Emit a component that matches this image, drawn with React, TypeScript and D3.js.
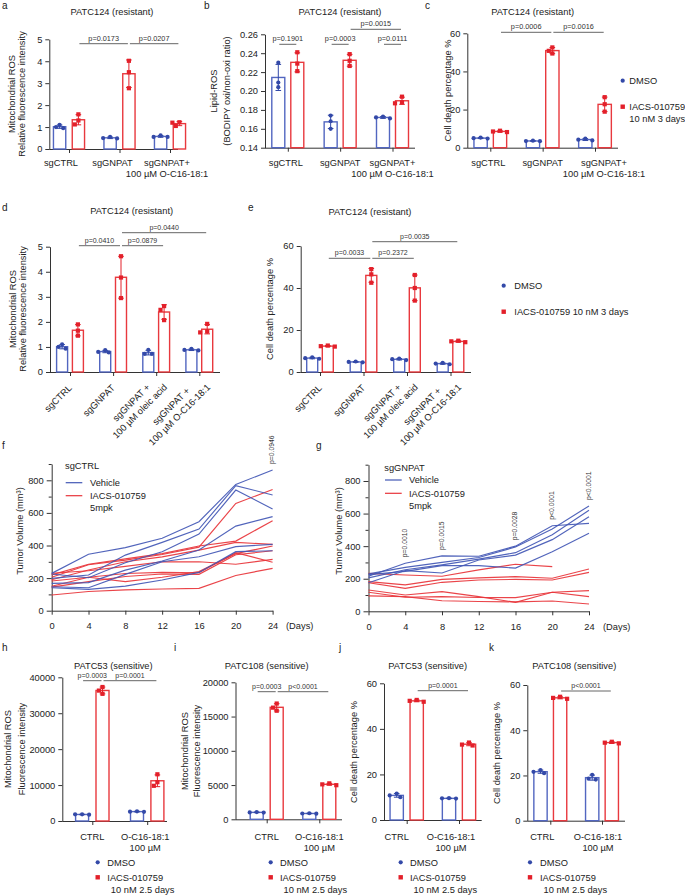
import React, { useEffect, useRef } from "react";
import * as d3 from "d3";

const W = 685, H = 895;
const FONT = "'Liberation Sans', Arial, Helvetica, sans-serif";
const FS = 9.3;
const TXT = "#222";
const AX = "#333";
const BLUE = "#3349a8";
const RED = "#e3202a";
const BLUE_BAR = "#5266c0";
const RED_BAR = "#e8393e";
const BLUE_LINE = "#4257b5";
const RED_LINE = "#e8343a";

// ---------- data: panel a ----------
const aGroups = ["sgCTRL", "sgGNPAT", "sgGNPAT+|100 µM O-C16-18:1"];
const aDMSO = [[1.0, 1.1, 0.95], [0.5, 0.55, 0.48], [0.62, 0.55, 0.55]];
const aIACS = [[1.58, 1.3, 1.12], [4.02, 3.5, 2.77], [1.22, 1.2, 1.05]];
const aTicks = [0, 1, 2, 3, 4, 5];
const aPvals = ["p=0.0173", "p=0.0207"];
// ---------- panel b ----------
const bDMSO = [[0.23, 0.209, 0.204], [0.174, 0.168, 0.16], [0.173, 0.172, 0.171]];
const bIACS = [[0.241, 0.229, 0.221], [0.239, 0.232, 0.2265], [0.194, 0.188, 0.187]];
const bTicks = [0.14, 0.16, 0.18, 0.2, 0.22, 0.24, 0.26];
const bPvals = ["p=0.1901", "p=0.0003", "p=0.0015", "p=0.0111"];
// ---------- panel c ----------
const cDMSO = [[5.3, 5.0, 4.8], [3.7, 3.5, 3.4], [4.8, 4.2, 3.8]];
const cIACS = [[8.9, 8.5, 8.2], [52.6, 50.8, 49.4], [26.5, 22.8, 18.9]];
const pctTicks = [0, 20, 40, 60];
const cPvals = ["p=0.0006", "p=0.0016"];
// ---------- panel d ----------
const dGroups = ["sgCTRL", "sgGNPAT", "sgGNPAT +|100 µM oleic acid", "sgGNPAT +|100 µM O-C16-18:1"];
const dDMSO = [[1.1, 1.0, 0.93], [0.87, 0.8, 0.78], [0.88, 0.72, 0.72], [0.92, 0.88, 0.86]];
const dIACS = [[1.9, 1.65, 1.45], [4.62, 3.77, 2.95], [2.63, 2.48, 2.07], [1.92, 1.62, 1.58]];
const dPvals = ["p=0.0410", "p=0.0879", "p=0.0440"];
// ---------- panel e ----------
const eDMSO = [[7.0, 6.6, 6.3], [5.0, 4.8, 4.6], [6.4, 6.1, 5.7], [4.3, 4.0, 3.7]];
const eIACS = [[12.6, 12.3, 12.1], [49.0, 46.5, 42.5], [46.2, 40.0, 34.0], [14.9, 14.6, 14.2]];
const ePvals = ["p=0.0033", "p=0.2372", "p=0.0035"];
// ---------- panels f, g ----------
const days = [0, 4, 8, 12, 16, 20, 24];
const tumorTicks = [0, 200, 400, 600, 800];
const tumorMinor = [100, 300, 500, 700, 900];
const fVehicle = [
  [229, 346, 387, 444, 546, 775, 863],
  [198, 219, 341, 419, 501, 767, 710],
  [225, 202, 294, 362, 470, 740, 624],
  [168, 172, 249, 305, 372, 519, 577],
  [147, 141, 223, 300, 331, 393, 407],
  [141, 131, 151, 188, 235, 362, 368],
];
const fIACS = [
  [205, 282, 310, 345, 390, 658, 744],
  [220, 285, 318, 350, 397, 427, 552],
  [190, 250, 300, 330, 372, 419, 407],
  [230, 245, 272, 300, 300, 285, 315],
  [182, 205, 178, 205, 240, 350, 397],
  [150, 205, 228, 235, 233, 356, 297],
  [145, 178, 210, 225, 223, 343, 368],
  [96, 118, 128, 133, 137, 216, 260],
];
const gVehicle = [
  [215, 295, 340, 338, 400, 525, 540],
  [230, 270, 300, 330, 395, 505, 647],
  [205, 255, 285, 320, 360, 470, 620],
  [175, 250, 235, 315, 345, 440, 581],
  [225, 245, 280, 280, 265, 365, 479],
];
const gIACS = [
  [233, 223, 215, 254, 289, 274, null],
  [182, 162, 196, 205, 213, 203, 260],
  [175, 141, 178, 192, 196, 192, 239],
  [131, 100, 121, 90, 55, 117, 127],
  [117, 86, 90, 85, 84, 117, 90],
  [95, 90, 65, 60, 58, 63, 45],
];
const fPDays = [24];
const fPvals = ["p=0.0946"];
const gPDays = [4, 8, 16, 20, 24];
const gPvals = ["p=0.0010", "p=0.0015", "p=0.0028", "p<0.0001", "p<0.0001"];
// ---------- panels h-k ----------
const hkGroups = ["CTRL", "O-C16-18:1|100 µM"];
const hDMSO = [[1850, 1850, 1750], [2700, 2600, 2550]];
const hIACS = [[37300, 36300, 35400], [13000, 10800, 9800]];
const hTicks = [0, 10000, 20000, 30000, 40000];
const hPvals = ["p=0.0003", "p=0.0001"];
const iDMSO = [[1050, 1000, 980], [880, 850, 820]];
const iIACS = [[16900, 16300, 15850], [5250, 5100, 4980]];
const iTicks = [0, 5000, 10000, 15000, 20000];
const iPvals = ["p=0.0003", "p<0.0001"];
const jDMSO = [[11.6, 10.8, 10.0], [9.6, 9.5, 9.4]];
const jIACS = [[52.7, 52.3, 51.9], [34.0, 33.1, 32.7]];
const jPvals = ["p=0.0001"];
const kDMSO = [[22.4, 21.6, 21.0], [20.3, 18.6, 18.2]];
const kIACS = [[54.8, 54.3, 53.9], [34.9, 34.5, 34.2]];
const kPvals = ["p<0.0001"];

const legendDMSO = "DMSO";
const legend3d = ["IACS-010759", "10 nM 3 days"];
const legend3dOne = ["IACS-010759 10 nM 3 days"];
const legend25 = ["IACS-010759", "10 nM 2.5 days"];
const lineLegend = ["Vehicle", "IACS-010759", "5mpk"];

// ---------- helpers ----------
function txt(g: any, x: number, y: number, s: string, o: any = {}) {
  const t = g.append("text").attr("font-family", FONT).attr("font-size", o.size ?? FS)
    .attr("fill", o.fill ?? TXT).attr("text-anchor", o.anchor ?? "start").text(s);
  if (o.rotate) t.attr("transform", `translate(${x},${y}) rotate(${o.rotate})`);
  else t.attr("x", x).attr("y", y);
  return t;
}
function styleAxis(sel: any) {
  sel.attr("font-family", FONT).attr("font-size", FS);
  sel.selectAll(".domain, .tick line").attr("stroke", AX).attr("stroke-width", 1);
  sel.selectAll("text").attr("fill", TXT);
}

function drawBar(svg: any, c: any) {
  const g = svg.append("g");
  txt(g, c.lx, c.ly, c.letter, { size: 10 });
  txt(g, c.tx, c.ty, c.title, { anchor: "middle" });
  const y = d3.scaleLinear().domain(c.domain).range([c.yBottom, c.yTop]);
  const keys = c.groups.map((_: any, i: number) => String(i));
  const x = d3.scalePoint<string>().domain(keys).range([c.c0, c.c1]);
  const bx = (gi: number, si: number) => (x(String(gi)) as number) + (si === 0 ? -c.half : c.half);

  const ya = g.append("g").attr("transform", `translate(${c.axisX},0)`)
    .call(d3.axisLeft(y).tickValues(c.ticks).tickSize(4).tickPadding(3).tickSizeOuter(0)
      .tickFormat((v: any) => c.fmt(v)));
  styleAxis(ya);
  g.append("line").attr("x1", c.axisX).attr("x2", c.axisEnd).attr("y1", c.yBottom + 0.5).attr("y2", c.yBottom + 0.5)
    .attr("stroke", AX).attr("stroke-width", 1);
  const xa = g.append("g").attr("transform", `translate(0,${c.yBottom})`)
    .call(d3.axisBottom(x).tickSize(4).tickSizeOuter(0).tickFormat(() => ""));
  xa.select(".domain").remove();
  styleAxis(xa);

  [c.dmso, c.iacs].forEach((ser: number[][], si: number) => {
    ser.forEach((vals, gi) => {
      const m = d3.mean(vals) as number;
      const sd = d3.deviation(vals) as number;
      const cx = bx(gi, si);
      const col = si === 0 ? BLUE : RED;
      g.append("rect").attr("x", cx - c.barW / 2).attr("y", y(m)).attr("width", c.barW)
        .attr("height", y(c.domain[0]) - y(m)).attr("fill", "white")
        .attr("stroke", si === 0 ? BLUE_BAR : RED_BAR).attr("stroke-width", 1.4);
      const eb = g.append("g").attr("stroke", col).attr("stroke-width", 1);
      eb.append("line").attr("x1", cx).attr("x2", cx).attr("y1", y(m - sd)).attr("y2", y(m + sd));
      [m - sd, m + sd].forEach((v) => eb.append("line").attr("x1", cx - 2.8).attr("x2", cx + 2.8).attr("y1", y(v)).attr("y2", y(v)));
      // simple swarm
      const placed: { x: number; y: number }[] = [];
      const pts = vals.map((v) => y(v)).sort((p, q) => p - q);
      pts.forEach((py) => {
        const cands = [0, -3.6, 3.6, -7, 7];
        let ox = 0;
        for (const cd of cands) {
          if (placed.every((p) => Math.hypot(p.x - cd, p.y - py) >= 4.2)) { ox = cd; break; }
        }
        placed.push({ x: ox, y: py });
        if (si === 0) g.append("circle").attr("cx", cx + ox).attr("cy", py).attr("r", 2.1).attr("fill", col);
        else g.append("rect").attr("x", cx + ox - 2.1).attr("y", py - 2.1).attr("width", 4.2).attr("height", 4.2).attr("fill", col);
      });
    });
  });

  // category labels
  c.groups.forEach((lab: string, i: number) => {
    const lines = lab.split("|");
    const cx = x(String(i)) as number;
    if (c.rot) {
      const gg = g.append("g").attr("transform", `translate(${cx},${c.yBottom}) rotate(-45)`);
      const ts = lines.map((l) => txt(gg, 0, 0, l, { anchor: "middle" }));
      const ws = ts.map((t: any) => (t.node() as SVGTextElement).getComputedTextLength());
      const maxW = Math.max(...ws);
      const k = lines.length > 1 ? 3 : 10;
      const lh = 12;
      ts.forEach((t: any, j: number) => {
        const yc = 10 + (j - (lines.length - 1) / 2) * lh;
        t.attr("x", -maxW / 2 - k).attr("y", yc + 3.3);
      });
    } else {
      lines.forEach((l, j) => txt(g, cx + (c.labelDx ? c.labelDx[i] : 0), c.labelY + j * c.lineH, l, { anchor: "middle" }));
    }
  });

  // brackets
  c.brackets.forEach((b: number[], i: number) => {
    const [g1, s1, g2, s2, yy] = b;
    const x1 = bx(g1, s1) + 1, x2 = bx(g2, s2) - 1;
    g.append("line").attr("x1", x1).attr("x2", x2).attr("y1", yy).attr("y2", yy).attr("stroke", "#555").attr("stroke-width", 0.9);
    txt(g, (x1 + x2) / 2, yy - 3, c.pvals[i], { size: c.pSize ?? 7, anchor: "middle", fill: "#333" });
  });

  // y label
  c.ylabel.forEach((l: string, i: number) => txt(g, c.ylabelX[i] + 3.4, c.ylabelY, l, { anchor: "middle", rotate: -90 }));

  // legend
  if (c.legend) {
    const L = c.legend;
    g.append("circle").attr("cx", L.x).attr("cy", L.y1).attr("r", 2.1).attr("fill", BLUE);
    txt(g, L.x + L.dx, L.y1 + 3.3, legendDMSO);
    g.append("rect").attr("x", L.x - 2.2).attr("y", L.y2 - 2.2).attr("width", 4.4).attr("height", 4.4).attr("fill", RED);
    L.lines.forEach((l: string, j: number) => txt(g, L.x + L.dx + (j > 0 ? L.indent : 0), L.y2 + 3.3 + j * L.lh, l));
  }
}

function drawLine(svg: any, c: any) {
  const g = svg.append("g");
  txt(g, c.lx, c.ly, c.letter, { size: 10 });
  const x = d3.scaleLinear().domain([0, 24]).range([c.axisX, c.xEnd]);
  const y = d3.scaleLinear().domain([0, 900]).range([c.yBottom, c.yTop]);
  const ya = g.append("g").attr("transform", `translate(${c.axisX},0)`)
    .call(d3.axisLeft(y).tickValues(tumorTicks).tickSize(5).tickPadding(3).tickSizeOuter(0));
  styleAxis(ya);
  const ym = g.append("g").attr("transform", `translate(${c.axisX},0)`)
    .call(d3.axisLeft(y).tickValues(tumorMinor).tickSize(3).tickFormat(() => ""));
  ym.select(".domain").remove();
  styleAxis(ym);
  const xa = g.append("g").attr("transform", `translate(0,${c.yBottom})`)
    .call(d3.axisBottom(x).tickValues(days).tickSize(4).tickPadding(8).tickSizeOuter(0));
  styleAxis(xa);
  txt(g, c.daysX, c.yBottom + 18.7, "(Days)");

  const line = d3.line<number | null>().defined((v) => v != null)
    .x((_, i) => x(days[i])).y((v) => y(v as number));
  const draw = (ser: (number | null)[][], col: string) =>
    ser.forEach((s) => g.append("path").attr("d", line(s)).attr("fill", "none").attr("stroke", col)
      .attr("stroke-width", 1.15).attr("stroke-opacity", 0.92));
  draw(c.iacs, RED_LINE);
  draw(c.vehicle, BLUE_LINE);

  // legend
  txt(g, c.legTitleX, c.legTitleY + 3.3, c.legTitle);
  g.append("line").attr("x1", c.legX0).attr("x2", c.legX1).attr("y1", c.legY[0]).attr("y2", c.legY[0]).attr("stroke", BLUE_LINE).attr("stroke-width", 1.2);
  g.append("line").attr("x1", c.legX0).attr("x2", c.legX1).attr("y1", c.legY[1]).attr("y2", c.legY[1]).attr("stroke", RED_LINE).attr("stroke-width", 1.2);
  lineLegend.forEach((l, j) => txt(g, c.legTextX, c.legY[j] + 3.3, l));

  // p values
  c.pDays.forEach((d: number, i: number) => {
    const di = days.indexOf(d);
    const mx = d3.max([...c.vehicle, ...c.iacs].map((s: any) => s[di]).filter((v: any) => v != null)) as number;
    txt(g, x(d) + 1.5, y(mx) - 6, c.pvals[i], { size: 6.8, rotate: -90, fill: "#333" });
  });

  txt(g, c.ylabelX + 3.4, c.ylabelY, "Tumor Volume (mm³)", { anchor: "middle", rotate: -90 });
}

export default function App() {
  const ref = useRef<SVGSVGElement>(null);
  useEffect(() => {
    const svg = d3.select(ref.current);
    svg.selectAll("*").remove();
    svg.append("rect").attr("width", W).attr("height", H).attr("fill", "white");
    const f2 = d3.format(".2f");
    const fd = d3.format("d");
    const mitoA = ["Mitochondrial ROS", "Relative fluorescence intensity"];
    const mitoH = ["Mitochondrial ROS", "Fluorescence intensity"];
    const cdp = ["Cell death percentage %"];

    drawBar(svg, {
      letter: "a", lx: 2, ly: 9, title: "PATC124 (resistant)", tx: 112, ty: 14.5,
      axisX: 49.3, axisEnd: 178, yBottom: 149, yTop: 39.3, domain: [0, 5], ticks: aTicks, fmt: fd,
      groups: aGroups, c0: 69, c1: 170, half: 9.4, barW: 12.3, dmso: aDMSO, iacs: aIACS,
      labelDx: [-8, -7, -3], labelY: 166, lineH: 11,
      ylabel: mitoA, ylabelX: [11.7, 21.7], ylabelY: 94,
      brackets: [[0, 1, 1, 1, 43.7], [1, 1, 2, 1, 43.7]], pvals: aPvals, pSize: 7.3,
    });
    drawBar(svg, {
      letter: "b", lx: 204, ly: 9, title: "PATC124 (resistant)", tx: 340, ty: 14.5,
      axisX: 265, axisEnd: 415, yBottom: 147.7, yTop: 34.3, domain: [0.14, 0.26], ticks: bTicks, fmt: f2,
      groups: aGroups, c0: 287.8, c1: 392.5, half: 9.5, barW: 13, dmso: bDMSO, iacs: bIACS,
      labelDx: [-2, 0, 0], labelY: 166, lineH: 11,
      ylabel: ["Lipid-ROS", "(BODIPY oxi/non-oxi ratio)"], ylabelX: [213.5, 227], ylabelY: 91,
      brackets: [[0, 0, 0, 1, 44.3], [1, 0, 1, 1, 44.3], [1, 1, 2, 1, 29.3], [2, 0, 2, 1, 44.3]], pvals: bPvals, pSize: 7.3,
    });
    drawBar(svg, {
      letter: "c", lx: 425, ly: 9, title: "PATC124 (resistant)", tx: 532.7, ty: 14.5,
      axisX: 467.3, axisEnd: 618, yBottom: 147.7, yTop: 33.3, domain: [0, 60], ticks: pctTicks, fmt: fd,
      groups: aGroups, c0: 490.3, c1: 595, half: 9.7, barW: 13.3, dmso: cDMSO, iacs: cIACS,
      labelDx: [-2, 0, 9], labelY: 166, lineH: 11,
      ylabel: cdp, ylabelX: [448], ylabelY: 90.5,
      brackets: [[0, 1, 1, 1, 32.3], [1, 1, 2, 1, 32.3]], pvals: cPvals, pSize: 7.3,
      legend: { x: 622.7, y1: 80.7, y2: 106.7, lines: legend3d, dx: 6.6, indent: 0, lh: 12.3 },
    });
    drawBar(svg, {
      letter: "d", lx: 2, ly: 211, title: "PATC124 (resistant)", tx: 131.7, ty: 214,
      axisX: 50, axisEnd: 220, yBottom: 372, yTop: 246.7, domain: [0, 5], ticks: aTicks, fmt: fd,
      groups: dGroups, c0: 70, c1: 199.3, half: 7.9, barW: 11, dmso: dDMSO, iacs: dIACS, rot: true,
      ylabel: mitoA, ylabelX: [12.3, 22.7], ylabelY: 309,
      brackets: [[0, 1, 1, 1, 245.7], [1, 1, 2, 1, 245.7], [1, 1, 3, 1, 232.7]], pvals: dPvals,
    });
    drawBar(svg, {
      letter: "e", lx: 248, ly: 211, title: "PATC124 (resistant)", tx: 370, ty: 215,
      axisX: 300.7, axisEnd: 471, yBottom: 372, yTop: 246, domain: [0, 60], ticks: pctTicks, fmt: fd,
      groups: dGroups, c0: 320, c1: 450.5, half: 7.8, barW: 11, dmso: eDMSO, iacs: eIACS, rot: true,
      ylabel: cdp, ylabelX: [270], ylabelY: 309,
      brackets: [[0, 1, 1, 1, 258.3], [1, 1, 2, 1, 258.3], [1, 1, 3, 1, 241.7]], pvals: ePvals,
      legend: { x: 503.7, y1: 285.7, y2: 311.7, lines: legend3dOne, dx: 10.6, indent: 0, lh: 12 },
    });
    drawLine(svg, {
      letter: "f", lx: 2, ly: 449, axisX: 51.7, xEnd: 272.6, yBottom: 610.7, yTop: 464,
      vehicle: fVehicle, iacs: fIACS, legTitle: "sgCTRL", legTitleX: 65, legTitleY: 466,
      legX0: 65.7, legX1: 82.3, legTextX: 90, legY: [482.7, 495.7, 507.7],
      pDays: fPDays, pvals: fPvals, ylabelX: 20, ylabelY: 531, daysX: 286,
    });
    drawLine(svg, {
      letter: "g", lx: 316, ly: 449, axisX: 368.5, xEnd: 589, yBottom: 611.3, yTop: 464.7,
      vehicle: gVehicle, iacs: gIACS, legTitle: "sgGNPAT", legTitleX: 384.3, legTitleY: 467.3,
      legX0: 385, legX1: 401.7, legTextX: 409, legY: [480, 493.3, 506],
      pDays: gPDays, pvals: gPvals, ylabelX: 338.5, ylabelY: 531, daysX: 603,
    });
    drawBar(svg, {
      letter: "h", lx: 2, ly: 651, title: "PATC53 (sensitive)", tx: 113.3, ty: 669,
      axisX: 62.3, axisEnd: 167, yBottom: 821, yTop: 677.3, domain: [0, 40000], ticks: hTicks, fmt: fd,
      groups: hkGroups, c0: 92.3, c1: 147.2, half: 10.2, barW: 13, dmso: hDMSO, iacs: hIACS,
      labelDx: [0, -2], labelY: 840, lineH: 10.5,
      ylabel: mitoH, ylabelX: [7.5, 21.7], ylabelY: 749,
      brackets: [[0, 0, 0, 1, 680.7], [0, 1, 1, 1, 680.7]], pvals: hPvals,
      legend: { x: 97.7, y1: 862.3, y2: 877.3, lines: legend25, dx: 9.6, indent: 3.5, lh: 12.7 },
    });
    drawBar(svg, {
      letter: "i", lx: 174, ly: 651, title: "PATC108 (sensitive)", tx: 266.7, ty: 669,
      axisX: 235.5, axisEnd: 342, yBottom: 819.3, yTop: 682.3, domain: [0, 20000], ticks: iTicks, fmt: fd,
      groups: hkGroups, c0: 266.7, c1: 319.3, half: 10, barW: 13, dmso: iDMSO, iacs: iIACS,
      labelDx: [0, 0], labelY: 840, lineH: 10.5,
      ylabel: mitoH, ylabelX: [185, 196.7], ylabelY: 751,
      brackets: [[0, 0, 0, 1, 691.7], [0, 1, 1, 1, 691.7]], pvals: iPvals,
      legend: { x: 270.7, y1: 862.3, y2: 877.3, lines: legend25, dx: 9.3, indent: 3.5, lh: 12.7 },
    });
    drawBar(svg, {
      letter: "j", lx: 339, ly: 651, title: "PATC53 (sensitive)", tx: 427.7, ty: 669,
      axisX: 384, axisEnd: 481.7, yBottom: 820, yTop: 683.3, domain: [0, 60], ticks: pctTicks, fmt: fd,
      groups: hkGroups, c0: 406.7, c1: 459, half: 10, barW: 13.3, dmso: jDMSO, iacs: jIACS,
      labelDx: [-10, -8], labelY: 840, lineH: 10.5,
      ylabel: cdp, ylabelX: [354], ylabelY: 752,
      brackets: [[0, 1, 1, 1, 690.7]], pvals: jPvals,
      legend: { x: 400.7, y1: 862.3, y2: 877.3, lines: legend25, dx: 9.3, indent: 3.5, lh: 12.7 },
    });
    drawBar(svg, {
      letter: "k", lx: 489, ly: 651, title: "PATC108 (sensitive)", tx: 574.3, ty: 669,
      axisX: 527.3, axisEnd: 625, yBottom: 820.7, yTop: 685, domain: [0, 60], ticks: pctTicks, fmt: fd,
      groups: hkGroups, c0: 550.3, c1: 602, half: 9.8, barW: 13.3, dmso: kDMSO, iacs: kIACS,
      labelDx: [-8, -4], labelY: 840, lineH: 10.5,
      ylabel: cdp, ylabelX: [496.7], ylabelY: 753,
      brackets: [[0, 1, 1, 1, 691]], pvals: kPvals,
      legend: { x: 530, y1: 862.3, y2: 877.3, lines: legend25, dx: 10, indent: 3.5, lh: 12.7 },
    });
  }, []);
  return (
    <svg ref={ref} width={W} height={H} viewBox={`0 0 ${W} ${H}`}
      style={{ position: "absolute", left: 0, top: 0, display: "block" }} />
  );
}
